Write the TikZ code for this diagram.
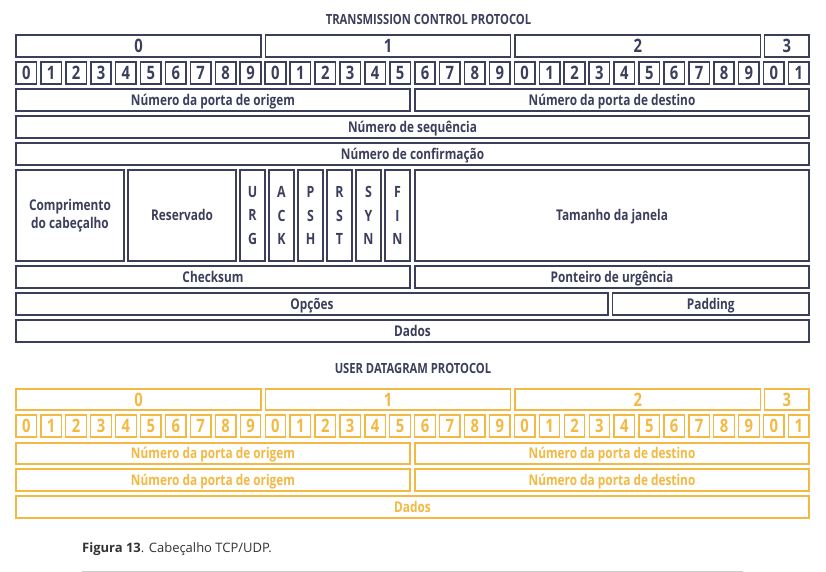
\documentclass[tikz,border=0pt]{standalone}
\usepackage{fontspec}
\setmainfont{Open Sans}
\newfontfamily\condf{Open Sans}[FakeStretch=0.80]
\definecolor{navy}{HTML}{3B3F5C}
\definecolor{gold}{HTML}{F4B942}
\definecolor{capc}{HTML}{333333}
\newcommand\fld[7]{%
  \node[#7, minimum width={#4-#2}, minimum height={#5-#3}] (#1) at ({(#2+#4)/2},{(#3+#5)/2}) {#6};}
\begin{document}
\begin{tikzpicture}[x=1pt,y=-1pt,
  tcpbox/.style={draw=navy, line width=1.6pt, inner sep=0pt, text=navy, font=\condf\bfseries\fontsize{14.8}{18}\selectfont, align=center},
  udpbox/.style={draw=gold, line width=1.3pt, inner sep=0pt, text=gold, font=\condf\bfseries\fontsize{14.8}{18}\selectfont, align=center},
  one/.style={text height=10.6pt, text depth=0pt},
  bignum/.style={font=\condf\bfseries\fontsize{18.5}{18}\selectfont, text height=13.2pt, text depth=0pt},
  flag/.style={font=\condf\bfseries\fontsize{15.5}{15}\selectfont},
  ttl/.style={font=\condf\bfseries\fontsize{14}{15}\selectfont, text=navy}]
\useasboundingbox[fill=white] (0,0) rectangle (826,572);
% ---------------- TCP ----------------
\node[ttl] (ttcp) at (428.5,19) {TRANSMISSION CONTROL PROTOCOL};
\fld{h0}{16}{35}{261}{57}{0}{tcpbox,bignum}
\fld{h1}{265.5}{35}{510.5}{57}{1}{tcpbox,bignum}
\fld{h2}{515}{35}{760.5}{57}{2}{tcpbox,bignum}
\fld{h3}{764.5}{35}{809}{57}{3}{tcpbox,bignum}
\foreach \i in {0,...,31}{
  \pgfmathsetmacro\xa{16+\i*24.92}
  \pgfmathsetmacro\xb{\xa+20.5}
  \pgfmathtruncatemacro\d{mod(\i,10)}
  \fld{tb\i}{\xa}{62}{\xb}{84}{\d}{tcpbox,bignum}
}
\fld{src}{16}{89}{410}{111}{Número da porta de origem}{tcpbox,one}
\fld{dst}{415}{89}{809}{111}{Número da porta de destino}{tcpbox,one}
\fld{seq}{16}{116}{809}{138}{Número de sequência}{tcpbox,one}
\fld{ack}{16}{143}{809}{165}{Número de confirmação}{tcpbox,one}
\fld{hlen}{16}{170}{124}{261}{Comprimento\\do cabeçalho}{tcpbox}
\fld{res}{128}{170}{236}{261}{Reservado}{tcpbox,one}
\fld{furg}{240}{170}{265}{261}{U\\[8.5pt]R\\[8.5pt]G}{tcpbox,flag}
\fld{fack}{269}{170}{294}{261}{A\\[8.5pt]C\\[8.5pt]K}{tcpbox,flag}
\fld{fpsh}{298}{170}{323}{261}{P\\[8.5pt]S\\[8.5pt]H}{tcpbox,flag}
\fld{frst}{327}{170}{352}{261}{R\\[8.5pt]S\\[8.5pt]T}{tcpbox,flag}
\fld{fsyn}{356}{170}{381}{261}{S\\[8.5pt]Y\\[8.5pt]N}{tcpbox,flag}
\fld{ffin}{385}{170}{410}{261}{F\\[8.5pt]I\\[8.5pt]N}{tcpbox,flag}
\fld{win}{415}{170}{809}{261}{Tamanho da janela}{tcpbox,one}
\fld{csum}{16}{266}{410}{288}{Checksum}{tcpbox,one}
\fld{urg}{415}{266}{809}{288}{Ponteiro de urgência}{tcpbox,one}
\fld{opt}{16}{293}{608}{315}{Opções}{tcpbox,one}
\fld{pad}{612.5}{293}{809}{315}{Padding}{tcpbox,one}
\fld{dat}{16}{320}{809}{342}{Dados}{tcpbox,one}
% ---------------- UDP ----------------
\node[ttl] (tudp) at (413,368) {USER DATAGRAM PROTOCOL};
\fld{uh0}{16}{389}{261}{410}{0}{udpbox,bignum}
\fld{uh1}{265.5}{389}{510.5}{410}{1}{udpbox,bignum}
\fld{uh2}{515}{389}{760.5}{410}{2}{udpbox,bignum}
\fld{uh3}{764.5}{389}{809}{410}{3}{udpbox,bignum}
\foreach \i in {0,...,31}{
  \pgfmathsetmacro\xa{16+\i*24.92}
  \pgfmathsetmacro\xb{\xa+20.5}
  \pgfmathtruncatemacro\d{mod(\i,10)}
  \fld{ub\i}{\xa}{415}{\xb}{437}{\d}{udpbox,bignum}
}
\fld{usrc}{16}{443}{410}{464}{Número da porta de origem}{udpbox,one}
\fld{udst}{415}{443}{809}{464}{Número da porta de destino}{udpbox,one}
\fld{usrc2}{16}{469}{410}{491}{Número da porta de origem}{udpbox,one}
\fld{udst2}{415}{469}{809}{491}{Número da porta de destino}{udpbox,one}
\fld{udat}{16}{496}{809}{518}{Dados}{udpbox,one}
% ---------------- caption ----------------
\node[anchor=west, inner sep=0pt, text=capc, font=\fontsize{13}{15}\selectfont] (cap) at (82,549) {\textbf{Figura 13}. Cabeçalho TCP/UDP.};
\coordinate (la) at (82,571);
\coordinate (lb) at (743,571);
\draw[line width=1pt, draw=black!20] (la) -- (lb);
\end{tikzpicture}
\end{document}
